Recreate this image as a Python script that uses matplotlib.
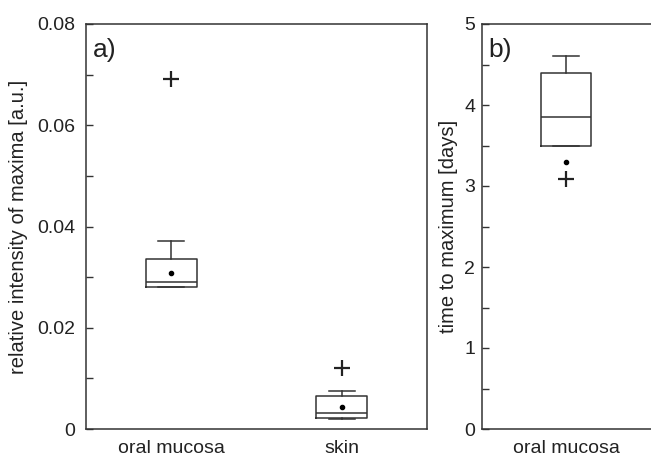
import matplotlib
matplotlib.use('Agg')
import matplotlib.pyplot as plt
import numpy as np
from matplotlib.ticker import FixedLocator, FixedFormatter, MultipleLocator

# panel a) relative intensity of maxima
groups_a = ['oral mucosa', 'skin']
a_q1 = [0.0280, 0.0022]
a_med = [0.0291, 0.0032]
a_q3 = [0.0335, 0.0065]
a_lo = [0.0280, 0.0019]
a_hi = [0.0371, 0.0075]
a_mean = [0.0308, 0.0043]
a_out = [[0.0691], [0.0120]]
a_ticks = [0, 0.02, 0.04, 0.06, 0.08]
a_ticklabels = ['0', '0.02', '0.04', '0.06', '0.08']

# panel b) time to maximum
groups_b = ['oral mucosa']
b_q1 = [3.50]
b_med = [3.85]
b_q3 = [4.40]
b_lo = [3.50]
b_hi = [4.60]
b_mean = [3.30]
b_out = [[3.09]]
b_ticks = [0, 1, 2, 3, 4, 5]
b_ticklabels = ['0', '1', '2', '3', '4', '5']

plt.rcParams['font.family'] = ['Liberation Sans', 'DejaVu Sans']
plt.rcParams['text.color'] = '#222222'
plt.rcParams['axes.labelcolor'] = '#222222'
plt.rcParams['xtick.labelcolor'] = '#222222'
plt.rcParams['ytick.labelcolor'] = '#222222'
line_col = '#333333'


def make_stats(q1, med, q3, lo, hi, mean, out):
    stats = []
    for i in range(len(q1)):
        stats.append({'q1': q1[i], 'med': med[i], 'q3': q3[i],
                      'whislo': lo[i], 'whishi': hi[i],
                      'mean': mean[i], 'fliers': out[i]})
    return stats


def draw_box(ax, stats, labels):
    pos = np.arange(1, len(stats) + 1)
    lp = dict(color=line_col, linewidth=1.1)
    ax.bxp(stats, positions=pos, widths=0.3, capwidths=0.15, showmeans=True,
           boxprops=lp, whiskerprops=lp, capprops=lp, medianprops=lp,
           meanprops=dict(marker='o', markersize=3, markerfacecolor='black',
                          markeredgecolor='black'),
           flierprops=dict(marker='+', markersize=12, markeredgewidth=1.6,
                           markeredgecolor='#222222'))
    ax.set_xticks(pos)
    ax.set_xticklabels(labels, fontsize=14)
    for s in ax.spines.values():
        s.set_color(line_col)
        s.set_linewidth(1.1)
    ax.tick_params(axis='y', which='both', direction='in', length=5, width=1,
                   color=line_col, labelsize=14, pad=8)
    ax.tick_params(axis='x', length=0, pad=8)


fig = plt.figure(figsize=(6.51, 4.57), dpi=100)

ax1 = fig.add_axes([86 / 651, 1 - 429 / 457, 341 / 651, 405 / 457])
draw_box(ax1, make_stats(a_q1, a_med, a_q3, a_lo, a_hi, a_mean, a_out), groups_a)
ax1.set_xlim(0.5, 2.5)
ax1.set_ylim(0, 0.08)
ax1.yaxis.set_major_locator(FixedLocator(a_ticks))
ax1.yaxis.set_major_formatter(FixedFormatter(a_ticklabels))
ax1.yaxis.set_minor_locator(MultipleLocator(0.01))
ax1.set_ylabel('relative intensity of maxima [a.u.]', fontsize=14.5, labelpad=6)
ax1.text(0.02, 0.965, 'a)', transform=ax1.transAxes, fontsize=19, va='top')

ax2 = fig.add_axes([482 / 651, 1 - 429 / 457, 178 / 651, 405 / 457])
draw_box(ax2, make_stats(b_q1, b_med, b_q3, b_lo, b_hi, b_mean, b_out), groups_b)
ax2.set_xlim(0.5, 1.56)
ax2.set_ylim(0, 5)
ax2.yaxis.set_major_locator(FixedLocator(b_ticks))
ax2.yaxis.set_major_formatter(FixedFormatter(b_ticklabels))
ax2.yaxis.set_minor_locator(MultipleLocator(0.5))
ax2.tick_params(axis='y', pad=5)
ax2.set_ylabel('time to maximum [days]', fontsize=14.5, labelpad=4)
ax2.text(0.035, 0.965, 'b)', transform=ax2.transAxes, fontsize=19, va='top')

fig.savefig('out.png', dpi=100)
